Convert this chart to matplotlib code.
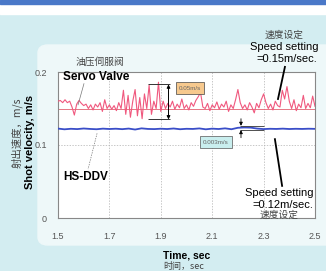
import matplotlib
matplotlib.use("Agg")
import matplotlib.pyplot as plt
import numpy as np
from matplotlib.patches import Rectangle, FancyBboxPatch

# shot velocity, servo valve (m/s)
servo = [0.160, 0.161, 0.158, 0.162, 0.158, 0.160, 0.152, 0.141, 0.156, 0.161,
         0.157, 0.154, 0.156, 0.150, 0.155, 0.148, 0.156, 0.152, 0.158, 0.146,
         0.162, 0.150, 0.155, 0.149, 0.154, 0.147, 0.158, 0.150, 0.175, 0.142,
         0.168, 0.138, 0.160, 0.176, 0.140, 0.165, 0.136, 0.170, 0.150, 0.182,
         0.142, 0.160, 0.150, 0.186, 0.146, 0.160, 0.150, 0.157, 0.152, 0.160,
         0.149, 0.156, 0.151, 0.163, 0.150, 0.155, 0.148, 0.158, 0.153, 0.161,
         0.166, 0.172, 0.152, 0.150, 0.157, 0.147, 0.155, 0.151, 0.159, 0.149,
         0.156, 0.152, 0.160, 0.146, 0.155, 0.150, 0.162, 0.176, 0.158, 0.150,
         0.155, 0.148, 0.158, 0.152, 0.144, 0.157, 0.151, 0.162, 0.170, 0.158,
         0.150, 0.156, 0.148, 0.160, 0.154, 0.152, 0.175, 0.163, 0.180, 0.160,
         0.150, 0.162, 0.147, 0.156, 0.151, 0.168, 0.150, 0.157, 0.151, 0.167,
         0.153]
# shot velocity, HS-DDV (m/s)
ddv = [0.1225, 0.1215, 0.1222, 0.1218, 0.1226, 0.1220, 0.1216, 0.1224, 0.1219, 0.1223,
       0.1217, 0.1225, 0.1212, 0.1228, 0.1220, 0.1218, 0.1223, 0.1219, 0.1226, 0.1216,
       0.1222, 0.1220, 0.1227, 0.1215, 0.1224, 0.1219, 0.1228, 0.1216, 0.1236, 0.1240,
       0.1238, 0.1225, 0.1218, 0.1222, 0.1220, 0.1224, 0.1219, 0.1222, 0.1220, 0.1223,
       0.1221]
setting_servo = 0.15
xticks = [1.5, 1.7, 1.9, 2.1, 2.3, 2.5]
yticks = [0, 0.1, 0.2]
ytick_labels = ['0', '0.1', '0.2']

t_servo = np.linspace(1.5, 2.5, len(servo))
t_ddv = np.linspace(1.5, 2.5, len(ddv))

W, H = 326, 271
EN = ['Liberation Sans', 'Noto Sans CJK SC', 'DejaVu Sans']
CN = ['Noto Sans CJK SC', 'Liberation Sans', 'DejaVu Sans']


def fx(x):
    return x / W


def fy(y):
    return 1 - y / H


fig = plt.figure(figsize=(W / 100, H / 100), dpi=100, facecolor='#d3edf1')

# background panels
fig.patches.append(Rectangle((0, fy(14)), 1, 10 / H, transform=fig.transFigure,
                             color='white', zorder=-2))
fig.patches.append(Rectangle((0, fy(4)), 1, 4 / H, transform=fig.transFigure,
                             color='#4a78c8', zorder=-2))
fig.patches.append(FancyBboxPatch((fx(38), fy(245)), 1, (245 - 45) / H,
                                  boxstyle='round,pad=0,rounding_size=0.03',
                                  transform=fig.transFigure, color='#eef8f9',
                                  zorder=-2))

ax = fig.add_axes([fx(58), fy(218), (315 - 58) / W, (218 - 72) / H])
ax.set_zorder(2)
ax.set_facecolor('white')

ax.plot(t_servo, servo, color='#f0587e', lw=0.8, zorder=3)
ax.axhline(setting_servo, color='#e06070', lw=0.6, zorder=2)
ax.plot(t_ddv, ddv, color='#3a4ec8', lw=1.3, zorder=3)

ax.set_xlim(1.5, 2.5)
ax.set_ylim(0, 0.2)
ax.set_xticks(xticks)
ax.set_xticklabels([str(v) for v in xticks])
ax.set_yticks(yticks)
ax.set_yticklabels(ytick_labels)
ax.tick_params(length=0, labelsize=6.5, labelcolor='#555555')
ax.tick_params(axis='x', pad=10)
ax.tick_params(axis='y', pad=8)
for lab in ax.get_xticklabels() + ax.get_yticklabels():
    lab.set_family(EN)
ax.grid(color='#b0b0b0', linestyle=(0, (2, 2)), lw=0.5)
for sp in ax.spines.values():
    sp.set_color('#888888')
    sp.set_linewidth(0.8)

# 0.05 m/s band on the servo trace
ax.hlines([0.183, 0.135], 1.85, 1.936, color='#333333', lw=0.7, zorder=4)
ax.annotate('', xy=(1.93, 0.183), xytext=(1.93, 0.135),
            arrowprops=dict(arrowstyle='<|-|>', color='black', lw=0.7,
                            mutation_scale=5, shrinkA=0, shrinkB=0), zorder=4)
ax.text(2.014, 0.178, '0.05m/s', fontsize=4.5, color='#666666', family=EN,
        ha='center', va='center', zorder=5,
        bbox=dict(boxstyle='square,pad=0.5', fc='#f7c98e', ec='#444444', lw=0.5))

# 0.003 m/s band on the DDV trace
ax.hlines([0.1262, 0.1205], 2.21, 2.30, color='#333333', lw=0.6, zorder=4)
ax.annotate('', xy=(2.212, 0.1262), xytext=(2.212, 0.136),
            arrowprops=dict(arrowstyle='-|>', color='black', lw=0.6,
                            mutation_scale=5, shrinkA=0, shrinkB=0), zorder=4)
ax.annotate('', xy=(2.212, 0.1205), xytext=(2.212, 0.110),
            arrowprops=dict(arrowstyle='-|>', color='black', lw=0.6,
                            mutation_scale=5, shrinkA=0, shrinkB=0), zorder=4)
ax.text(2.115, 0.104, '0.003m/s', fontsize=4.5, color='#666666', family=EN,
        ha='center', va='center', zorder=5,
        bbox=dict(boxstyle='square,pad=0.5', fc='#c9eeee', ec='#555555', lw=0.5))

# series labels
ax.text(1.52, 0.193, 'Servo Valve', fontsize=8.5, fontweight='bold', family=EN,
        ha='left', va='center', zorder=5)
ax.plot([1.601, 1.578], [0.184, 0.155], color='#777777', lw=0.5, zorder=4)
ax.text(1.52, 0.056, 'HS-DDV', fontsize=8.5, fontweight='bold', family=EN,
        ha='left', va='center', zorder=5)
ax.plot([1.652, 1.617], [0.116, 0.067], color='#777777', lw=0.5,
        linestyle=(0, (2, 1.5)), zorder=4)

# speed setting callouts
ax.plot([2.383, 2.356], [0.207, 0.163], color='black', lw=1.3, clip_on=False,
        zorder=5)
ax.plot([2.372, 2.344], [0.044, 0.108], color='black', lw=1.3, zorder=5)

fig.text(fx(100), fy(62), '油压伺服阀', fontsize=7, color='#444444', family=CN,
         ha='center', va='center')
fig.text(fx(284), fy(35), '速度设定', fontsize=7, color='#444444', family=CN,
         ha='center', va='center')
fig.text(fx(284), fy(47), 'Speed setting', fontsize=8, family=EN,
         ha='center', va='center')
fig.text(fx(287), fy(59), '=0.15m/sec.', fontsize=8, family=EN,
         ha='center', va='center')
ax.text(2.36, 0.034, 'Speed setting', fontsize=8, family=EN,
        ha='center', va='center', zorder=5)
ax.text(2.375, 0.018, '=0.12m/sec.', fontsize=8, family=EN,
        ha='center', va='center', zorder=5)
ax.text(2.36, 0.004, '速度设定', fontsize=7, color='#444444', family=CN,
        ha='center', va='center', zorder=5)

# axis titles
fig.text(fx(17), fy(133), '射出速度，m/s', fontsize=7.5, color='#444444',
         family=CN, rotation=90, ha='center', va='center')
fig.text(fx(30), fy(142), 'Shot velocity, m/s', fontsize=8, fontweight='bold',
         family=EN, rotation=90, ha='center', va='center')
fig.text(fx(163), fy(255), 'Time, sec', fontsize=7.5, fontweight='bold',
         family=EN, ha='left', va='center')
fig.text(fx(163), fy(266), '时间，sec', fontsize=6.5, color='#444444',
         family=CN, ha='left', va='center')

fig.savefig('out.png', dpi=100, facecolor=fig.get_facecolor())
